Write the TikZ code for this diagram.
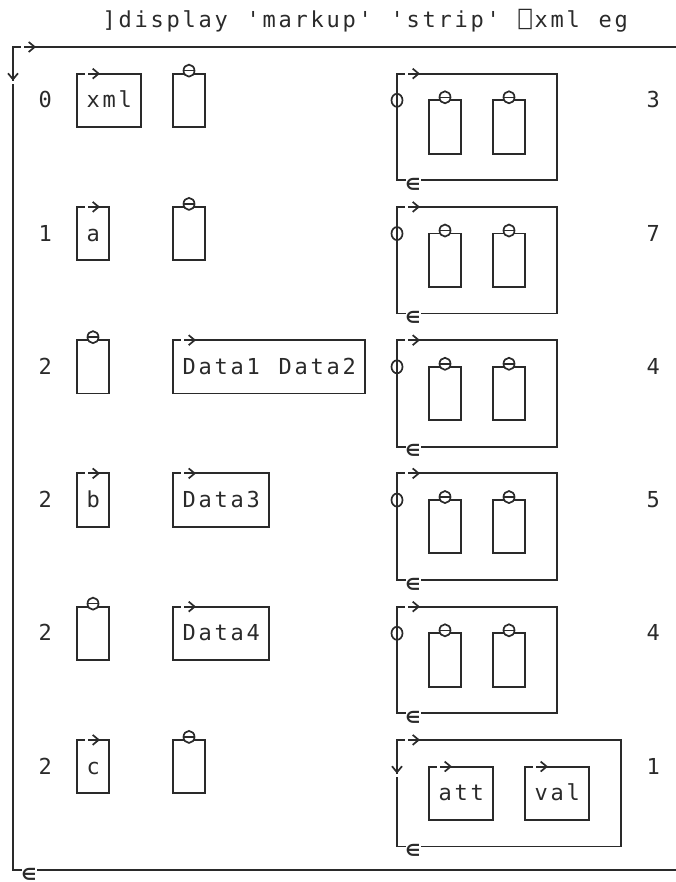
\documentclass[tikz,border=0pt]{standalone}
\usepackage{fontspec}
\newfontfamily\aplfont{DejaVu Sans Mono}
\usetikzlibrary{arrows.meta}
\definecolor{ink}{HTML}{2A2A2A}
\makeatletter
\def\spc#1{\spc@i#1\relax}
\def\spc@i#1{\ifx\relax#1\else\makebox[16pt][c]{#1}\expandafter\spc@i\fi}
\makeatother
\tikzset{
  bl/.style={draw=ink,line width=1.9pt},
  txt/.style={text=ink,font=\aplfont\fontsize{22}{26}\selectfont,inner sep=0pt},
  epsnode/.style={text=ink,font=\aplfont\fontsize{26}{28}\selectfont,inner sep=0pt,anchor=base},
  tipr/.style={-{Straight Barb[length=6pt,width=10pt,line width=1.7pt]}},
}
\newcommand\apltext[4]{\pgfmathsetmacro\xa{13+16*(#2)-8}\pgfmathsetmacro\ya{47+26.65*(#3)+7.6}\node[txt,anchor=base west] (#1) at (\xa,\ya) {\spc{#4}};}
\newcommand\abox[4]{\pgfmathsetmacro\xa{13+16*(#1)}\pgfmathsetmacro\xb{13+16*(#2)}\pgfmathsetmacro\ya{47+26.65*(#3)}\pgfmathsetmacro\yb{47+26.65*(#4)}\draw[bl] (\xa,\ya) rectangle (\xb,\yb);}
\newcommand\rarr[2]{\pgfmathsetmacro\xa{13+16*(#1)}\pgfmathsetmacro\ya{47+26.65*(#2)}\fill[white] (\xa-8,\ya-2) rectangle (\xa-5,\ya+2);\draw[bl,tipr] (\xa-5,\ya) -- (\xa+7,\ya);}
\newcommand\darr[2]{\pgfmathsetmacro\xa{13+16*(#1)}\pgfmathsetmacro\ya{47+26.65*(#2)}\fill[white] (\xa-2,\ya+7) rectangle (\xa+2,\ya+10);\draw[bl,tipr] (\xa,\ya-9) -- (\xa,\ya+7);}
\newcommand\zmk[2]{\pgfmathsetmacro\xa{13+16*(#1)}\pgfmathsetmacro\ya{47+26.65*(#2)-3}\draw[bl,line width=1.7pt,fill=white] (\xa,\ya) ellipse [x radius=5.5pt,y radius=6pt];\draw[bl,line width=1.5pt] (\xa-5.5,\ya) -- (\xa+5.5,\ya);}
\newcommand\phimk[2]{\pgfmathsetmacro\xa{13+16*(#1)}\pgfmathsetmacro\ya{47+26.65*(#2)}\draw[bl,line width=1.7pt] (\xa,\ya) ellipse [x radius=5.5pt,y radius=6.5pt];}
% epsilon marker: #1 name, #2 x, #3 y of the line
\newcommand\epsat[3]{\fill[white] (#2-7,#3-1.6) rectangle (#2+8,#3+1.6);\node[epsnode] (#1) at (#2,#3+12) {∊};}
\newcommand\epsmk[3]{\pgfmathsetmacro\xa{13+16*(#2)}\pgfmathsetmacro\ya{47+26.65*(#3)}\epsat{#1}{\xa}{\ya}}
\newcommand\nest[2]{%
  \abox{24}{34}{#1}{#1+4}\rarr{25}{#1}\phimk{24}{#1+1}\epsmk{#2}{25}{#1+4}%
  \abox{26}{28}{#1+1}{#1+3}\zmk{27}{#1+1}%
  \abox{30}{32}{#1+1}{#1+3}\zmk{31}{#1+1}}
\begin{document}
\begin{tikzpicture}[x=1pt,y=-1pt]
\useasboundingbox (0,0) rectangle (676,882);
% title
\apltext{title}{6}{-1}{]display~'markup'~'strip'~⎕xml~eg}
% outer box
\draw[bl] (676,47) -- (13,47) -- (13,870) -- (676,870);
\rarr{1}{0}\darr{0}{1}
\epsat{eouter}{29}{870}
% row 0
\apltext{n0}{2}{2}{0}
\abox{4}{8}{1}{3}\rarr{5}{1}\apltext{xml}{5}{2}{xml}
\abox{10}{12}{1}{3}\zmk{11}{1}
\nest{1}{e0}
\apltext{c0}{40}{2}{3}
% row 1
\apltext{n1}{2}{7}{1}
\abox{4}{6}{6}{8}\rarr{5}{6}\apltext{a}{5}{7}{a}
\abox{10}{12}{6}{8}\zmk{11}{6}
\nest{6}{e1}
\apltext{c1}{40}{7}{7}
% row 2
\apltext{n2}{2}{12}{2}
\abox{4}{6}{11}{13}\zmk{5}{11}
\abox{10}{22}{11}{13}\rarr{11}{11}\apltext{d12}{11}{12}{Data1~Data2}
\nest{11}{e2}
\apltext{c2}{40}{12}{4}
% row 3
\apltext{n3}{2}{17}{2}
\abox{4}{6}{16}{18}\rarr{5}{16}\apltext{b}{5}{17}{b}
\abox{10}{16}{16}{18}\rarr{11}{16}\apltext{d3}{11}{17}{Data3}
\nest{16}{e3}
\apltext{c3}{40}{17}{5}
% row 4
\apltext{n4}{2}{22}{2}
\abox{4}{6}{21}{23}\zmk{5}{21}
\abox{10}{16}{21}{23}\rarr{11}{21}\apltext{d4}{11}{22}{Data4}
\nest{21}{e4}
\apltext{c4}{40}{22}{4}
% row 5
\apltext{n5}{2}{27}{2}
\abox{4}{6}{26}{28}\rarr{5}{26}\apltext{c}{5}{27}{c}
\abox{10}{12}{26}{28}\zmk{11}{26}
\abox{24}{38}{26}{30}\rarr{25}{26}\darr{24}{27}\epsmk{e5}{25}{30}
\abox{26}{30}{27}{29}\rarr{27}{27}\apltext{att}{27}{28}{att}
\abox{32}{36}{27}{29}\rarr{33}{27}\apltext{val}{33}{28}{val}
\apltext{c5}{40}{27}{1}
\end{tikzpicture}
\end{document}
